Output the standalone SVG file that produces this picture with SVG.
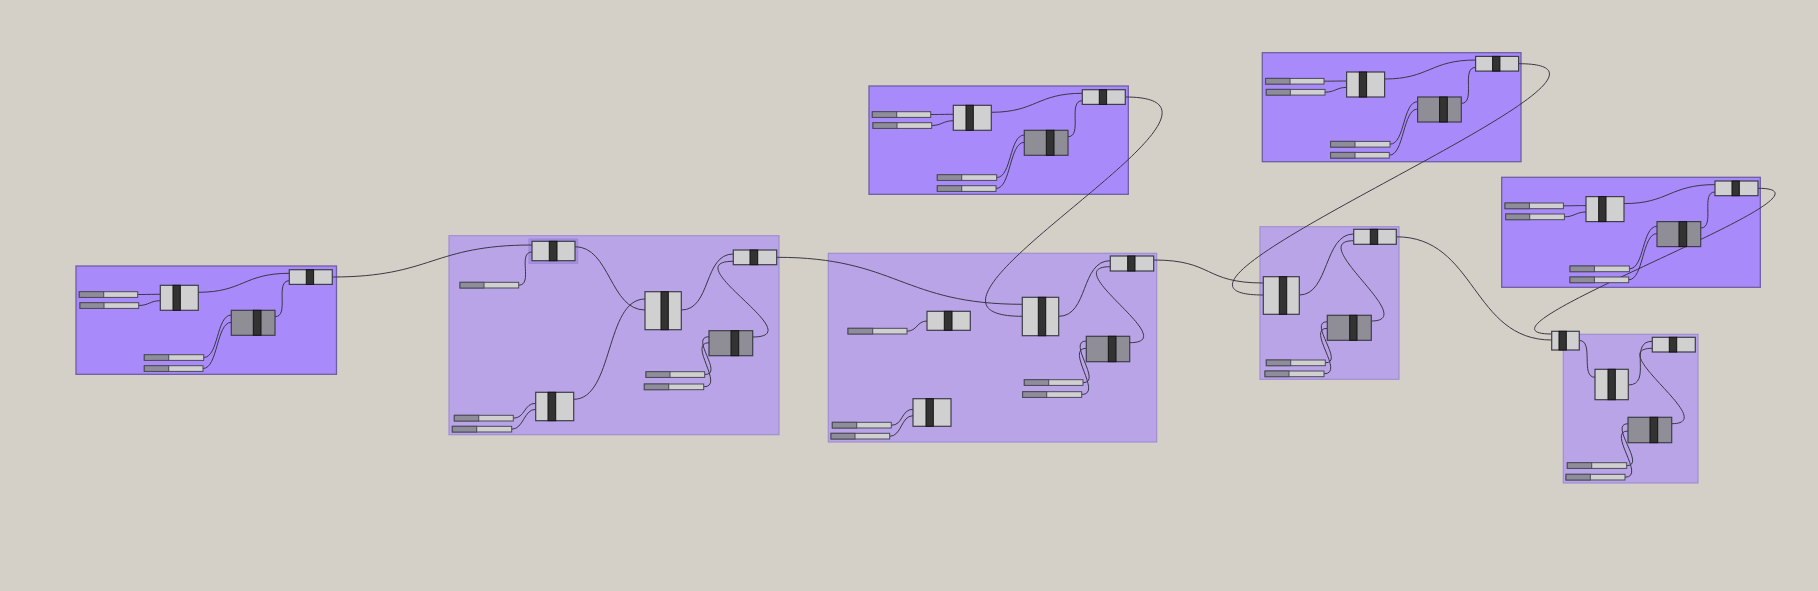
<svg xmlns="http://www.w3.org/2000/svg" width="1818" height="591" viewBox="0 0 1818 591">
<style>
.gb{fill:#a98afa;stroke:#6d5fa3;stroke-width:1.3}
.gl{fill:#b9a4e8;stroke:#a090d0;stroke-width:1.2}
.hl{fill:#a790e0;stroke:#9b87d8;stroke-width:1}
.c{fill:#d0d0d0;stroke:#3e3d4a;stroke-width:1.2}
.cd{fill:#8f8e97;stroke:#3e3d4a;stroke-width:1.2}
.bar{fill:#333333;stroke:#151515;stroke-width:1}
.sl{fill:#d0d0d0;stroke:#4b4a59;stroke-width:1}
.sd{fill:#8f8d99;stroke:#4b4a59;stroke-width:1}
.w{fill:none;stroke:#3a3744;stroke-width:1}
</style>
<rect width="1818" height="591" fill="#d4d0c8"/>

<!-- group boxes -->
<g id="group-boxes">
  <rect id="box-A" class="gb" x="76" y="266" width="260.5" height="108.3"/>
  <rect id="box-B" class="gl" x="449" y="235.7" width="330" height="199"/>
  <rect id="box-C" class="gl" x="828.3" y="253.3" width="328.4" height="188.7"/>
  <rect id="box-D" class="gb" x="869" y="86" width="259.3" height="108.3"/>
  <rect id="box-E" class="gb" x="1262.3" y="52.7" width="258.7" height="109"/>
  <rect id="box-F" class="gl" x="1260" y="226.7" width="139" height="152.6"/>
  <rect id="box-G" class="gb" x="1501.7" y="177.3" width="258.6" height="110"/>
  <rect id="box-H" class="gl" x="1563.3" y="334.3" width="134.7" height="148.7"/>
  <rect class="hl" x="529" y="239" width="48.7" height="24.3"/>
</g>

<!-- connectors -->
<g id="connectors" class="w">
  <g transform="translate(76,266)">
    <path d="M61.7 28.5 C71.7 28.5 74.3 28.3 84.3 28.3"/>
    <path d="M62.7 39.5 C72.7 39.5 74.3 34.7 84.3 34.7"/>
    <path d="M122.3 26.3 C167 26.3 168 7.3 213.3 7.3"/>
    <path d="M199 50.7 C214 50.7 198.3 14.7 213.3 14.7"/>
    <path d="M127.7 91.5 C142.7 91.5 140.3 49 155.3 49"/>
    <path d="M127 102.5 C142 102.5 140.3 56.3 155.3 56.3"/>
  </g>
  <g transform="translate(869,86)">
    <path d="M61.7 28.5 C71.7 28.5 74.3 28.3 84.3 28.3"/>
    <path d="M62.7 39.5 C72.7 39.5 74.3 34.7 84.3 34.7"/>
    <path d="M122.3 26.3 C167 26.3 168 7.3 213.3 7.3"/>
    <path d="M199 50.7 C214 50.7 198.3 14.7 213.3 14.7"/>
    <path d="M127.7 91.5 C142.7 91.5 140.3 49 155.3 49"/>
    <path d="M127 102.5 C142 102.5 140.3 56.3 155.3 56.3"/>
  </g>
  <g transform="translate(1262.3,52.7)">
    <path d="M61.7 28.5 C71.7 28.5 74.3 28.3 84.3 28.3"/>
    <path d="M62.7 39.5 C72.7 39.5 74.3 34.7 84.3 34.7"/>
    <path d="M122.3 26.3 C167 26.3 168 7.3 213.3 7.3"/>
    <path d="M199 50.7 C214 50.7 198.3 14.7 213.3 14.7"/>
    <path d="M127.7 91.5 C142.7 91.5 140.3 49 155.3 49"/>
    <path d="M127 102.5 C142 102.5 140.3 56.3 155.3 56.3"/>
  </g>
  <g transform="translate(1501.7,177.3)">
    <path d="M61.7 28.5 C71.7 28.5 74.3 28.3 84.3 28.3"/>
    <path d="M62.7 39.5 C72.7 39.5 74.3 34.7 84.3 34.7"/>
    <path d="M122.3 26.3 C167 26.3 168 7.3 213.3 7.3"/>
    <path d="M199 50.7 C214 50.7 198.3 14.7 213.3 14.7"/>
    <path d="M127.7 91.5 C142.7 91.5 140.3 49 155.3 49"/>
    <path d="M127 102.5 C142 102.5 140.3 56.3 155.3 56.3"/>
  </g>
  <path d="M332.3 277 C432.3 277 432 245 532 245"/>
  <path d="M518.7 285.2 C533.7 285.2 517 252 532 252"/>
  <path d="M575 246.7 C610 246.7 610 310 645 310"/>
  <path d="M573.7 399.3 C613.7 399.3 605 299 645 299"/>
  <path d="M513.3 418.2 C525.3 418.2 523.7 403.3 535.7 403.3"/>
  <path d="M511.7 429.2 C523.7 429.2 523.7 409.3 535.7 409.3"/>
  <path d="M681.3 310 C711.3 310 703.3 254 733.3 254"/>
  <path d="M752.7 337 C812.7 337 673.3 261.3 733.3 261.3"/>
  <path d="M704.7 374.5 C724.7 374.5 689 336.7 709 336.7"/>
  <path d="M703.7 386.8 C725.7 386.8 687 342.7 709 342.7"/>
  <path d="M776.7 257.3 C896.7 257.3 902.3 304.3 1022.3 304.3"/>
  <path d="M907 331.2 C917 331.2 917 321 927 321"/>
  <path d="M1058.7 316.3 C1088.7 316.3 1080.3 260.7 1110.3 260.7"/>
  <path d="M1129.7 342.7 C1184.7 342.7 1055.3 266.7 1110.3 266.7"/>
  <path d="M1083 382.7 C1103 382.7 1066.3 341 1086.3 341"/>
  <path d="M1081.7 394.5 C1103.7 394.5 1064.3 348.3 1086.3 348.3"/>
  <path d="M891.3 425.3 C903.3 425.3 901 409.3 913 409.3"/>
  <path d="M889.7 436.3 C901.7 436.3 901 415.7 913 415.7"/>
  <path d="M1153.7 260 C1213.7 260 1203.3 283 1263.3 283"/>
  <path d="M1125.3 97 C1285.3 97 862.3 316.3 1022.3 316.3"/>
  <path d="M1299.3 295 C1329.3 295 1323.7 234 1353.7 234"/>
  <path d="M1371.3 321 C1421.3 321 1303.7 240.7 1353.7 240.7"/>
  <path d="M1325.3 362.8 C1345.3 362.8 1307.3 321.7 1327.3 321.7"/>
  <path d="M1324 373.8 C1346 373.8 1305.3 328.3 1327.3 328.3"/>
  <path d="M1518.6 63.7 C1688.6 63.7 1093.3 295 1263.3 295"/>
  <path d="M1396.3 236.8 C1476.3 236.8 1471.7 340 1551.7 340"/>
  <path d="M1758 188.3 C1863 188.3 1446.7 334 1551.7 334"/>
  <path d="M1579.3 340.5 C1594.3 340.5 1580 377.3 1595 377.3"/>
  <path d="M1628.3 385 C1653.3 385 1627.3 341.3 1652.3 341.3"/>
  <path d="M1671.7 423.7 C1721.7 423.7 1602.3 348.3 1652.3 348.3"/>
  <path d="M1626.7 465.7 C1646.7 465.7 1608 423.7 1628 423.7"/>
  <path d="M1625 477.2 C1647 477.2 1606 431 1628 431"/>
</g>

<!-- group A (bright) -->
<g id="group-A" transform="translate(76,266)">
  <g id="A-slider1"><rect class="sl" x="3.3" y="25.7" width="58.4" height="5.7"/><rect class="sd" x="3.3" y="25.7" width="24.4" height="5.7"/></g>
  <g id="A-slider2"><rect class="sl" x="4" y="36.7" width="58.7" height="5.7"/><rect class="sd" x="4" y="36.7" width="24" height="5.7"/></g>
  <g id="A-comp1"><rect class="c" x="84.3" y="19.3" width="38" height="25"/><rect class="bar" x="97" y="19.3" width="7.3" height="25"/></g>
  <g id="A-comp2"><rect class="cd" x="155.3" y="44.3" width="43.7" height="25"/><rect class="bar" x="177.3" y="44.3" width="7.7" height="25"/></g>
  <g id="A-out"><rect class="c" x="213.3" y="3.7" width="43" height="14.7"/><rect class="bar" x="230.3" y="3.7" width="7.3" height="14.7"/></g>
  <g id="A-slider3"><rect class="sl" x="68.3" y="88.7" width="59.4" height="5.7"/><rect class="sd" x="68.3" y="88.7" width="24.4" height="5.7"/></g>
  <g id="A-slider4"><rect class="sl" x="68.3" y="99.7" width="58.7" height="5.7"/><rect class="sd" x="68.3" y="99.7" width="24.4" height="5.7"/></g>
</g>

<!-- group D (bright) -->
<g id="group-D" transform="translate(869,86)">
  <g id="D-slider1"><rect class="sl" x="3.3" y="25.7" width="58.4" height="5.7"/><rect class="sd" x="3.3" y="25.7" width="24.4" height="5.7"/></g>
  <g id="D-slider2"><rect class="sl" x="4" y="36.7" width="58.7" height="5.7"/><rect class="sd" x="4" y="36.7" width="24" height="5.7"/></g>
  <g id="D-comp1"><rect class="c" x="84.3" y="19.3" width="38" height="25"/><rect class="bar" x="97" y="19.3" width="7.3" height="25"/></g>
  <g id="D-comp2"><rect class="cd" x="155.3" y="44.3" width="43.7" height="25"/><rect class="bar" x="177.3" y="44.3" width="7.7" height="25"/></g>
  <g id="D-out"><rect class="c" x="213.3" y="3.7" width="43" height="14.7"/><rect class="bar" x="230.3" y="3.7" width="7.3" height="14.7"/></g>
  <g id="D-slider3"><rect class="sl" x="68.3" y="88.7" width="59.4" height="5.7"/><rect class="sd" x="68.3" y="88.7" width="24.4" height="5.7"/></g>
  <g id="D-slider4"><rect class="sl" x="68.3" y="99.7" width="58.7" height="5.7"/><rect class="sd" x="68.3" y="99.7" width="24.4" height="5.7"/></g>
</g>

<!-- group E (bright) -->
<g id="group-E" transform="translate(1262.3,52.7)">
  <g id="E-slider1"><rect class="sl" x="3.3" y="25.7" width="58.4" height="5.7"/><rect class="sd" x="3.3" y="25.7" width="24.4" height="5.7"/></g>
  <g id="E-slider2"><rect class="sl" x="4" y="36.7" width="58.7" height="5.7"/><rect class="sd" x="4" y="36.7" width="24" height="5.7"/></g>
  <g id="E-comp1"><rect class="c" x="84.3" y="19.3" width="38" height="25"/><rect class="bar" x="97" y="19.3" width="7.3" height="25"/></g>
  <g id="E-comp2"><rect class="cd" x="155.3" y="44.3" width="43.7" height="25"/><rect class="bar" x="177.3" y="44.3" width="7.7" height="25"/></g>
  <g id="E-out"><rect class="c" x="213.3" y="3.7" width="43" height="14.7"/><rect class="bar" x="230.3" y="3.7" width="7.3" height="14.7"/></g>
  <g id="E-slider3"><rect class="sl" x="68.3" y="88.7" width="59.4" height="5.7"/><rect class="sd" x="68.3" y="88.7" width="24.4" height="5.7"/></g>
  <g id="E-slider4"><rect class="sl" x="68.3" y="99.7" width="58.7" height="5.7"/><rect class="sd" x="68.3" y="99.7" width="24.4" height="5.7"/></g>
</g>

<!-- group G (bright) -->
<g id="group-G" transform="translate(1501.7,177.3)">
  <g id="G-slider1"><rect class="sl" x="3.3" y="25.7" width="58.4" height="5.7"/><rect class="sd" x="3.3" y="25.7" width="24.4" height="5.7"/></g>
  <g id="G-slider2"><rect class="sl" x="4" y="36.7" width="58.7" height="5.7"/><rect class="sd" x="4" y="36.7" width="24" height="5.7"/></g>
  <g id="G-comp1"><rect class="c" x="84.3" y="19.3" width="38" height="25"/><rect class="bar" x="97" y="19.3" width="7.3" height="25"/></g>
  <g id="G-comp2"><rect class="cd" x="155.3" y="44.3" width="43.7" height="25"/><rect class="bar" x="177.3" y="44.3" width="7.7" height="25"/></g>
  <g id="G-out"><rect class="c" x="213.3" y="3.7" width="43" height="14.7"/><rect class="bar" x="230.3" y="3.7" width="7.3" height="14.7"/></g>
  <g id="G-slider3"><rect class="sl" x="68.3" y="88.7" width="59.4" height="5.7"/><rect class="sd" x="68.3" y="88.7" width="24.4" height="5.7"/></g>
  <g id="G-slider4"><rect class="sl" x="68.3" y="99.7" width="58.7" height="5.7"/><rect class="sd" x="68.3" y="99.7" width="24.4" height="5.7"/></g>
</g>

<!-- group B (light) -->
<g id="group-B">
  <g id="B-top"><rect class="c" x="532" y="241.3" width="43" height="19.4"/><rect class="bar" x="549.3" y="241.3" width="7.7" height="19.4"/></g>
  <g id="B-slider0"><rect class="sl" x="460" y="282.3" width="58.7" height="5.7"/><rect class="sd" x="460" y="282.3" width="24" height="5.7"/></g>
  <g id="B-mid"><rect class="c" x="645" y="291.7" width="36.3" height="38"/><rect class="bar" x="661" y="291.7" width="7.3" height="38"/></g>
  <g id="B-low"><rect class="c" x="535.7" y="392.3" width="38" height="28.4"/><rect class="bar" x="548" y="392.3" width="7.7" height="28.4"/></g>
  <g id="B-slider1"><rect class="sl" x="454.3" y="415.3" width="59" height="5.7"/><rect class="sd" x="454.3" y="415.3" width="24.4" height="5.7"/></g>
  <g id="B-slider2"><rect class="sl" x="452.3" y="426.3" width="59.4" height="5.7"/><rect class="sd" x="452.3" y="426.3" width="24.4" height="5.7"/></g>
  <g id="B-out"><rect class="c" x="733.3" y="250" width="43.4" height="14.7"/><rect class="bar" x="750" y="250" width="7.7" height="14.7"/></g>
  <g id="B-dark"><rect class="cd" x="709" y="330.7" width="43.7" height="25"/><rect class="bar" x="731" y="330.7" width="7.7" height="25"/></g>
  <g id="B-slider3"><rect class="sl" x="646" y="371.7" width="58.7" height="5.7"/><rect class="sd" x="646" y="371.7" width="24" height="5.7"/></g>
  <g id="B-slider4"><rect class="sl" x="644.3" y="384" width="59.4" height="5.7"/><rect class="sd" x="644.3" y="384" width="24.4" height="5.7"/></g>
</g>

<!-- group C (light) -->
<g id="group-C">
  <g id="C-small"><rect class="c" x="927" y="311.3" width="43.3" height="19"/><rect class="bar" x="944.3" y="311.3" width="7.7" height="19"/></g>
  <g id="C-slider0"><rect class="sl" x="848" y="328.3" width="59" height="5.7"/><rect class="sd" x="848" y="328.3" width="24.7" height="5.7"/></g>
  <g id="C-mid"><rect class="c" x="1022.3" y="297.3" width="36.4" height="38.4"/><rect class="bar" x="1038.3" y="297.3" width="7.4" height="38.4"/></g>
  <g id="C-out"><rect class="c" x="1110.3" y="256" width="43.4" height="15"/><rect class="bar" x="1127.7" y="256" width="7.3" height="15"/></g>
  <g id="C-dark"><rect class="cd" x="1086.3" y="336.3" width="43.4" height="25.4"/><rect class="bar" x="1108.3" y="336.3" width="7.7" height="25.4"/></g>
  <g id="C-slider1"><rect class="sl" x="1024.3" y="379.7" width="58.7" height="5.7"/><rect class="sd" x="1024.3" y="379.7" width="24.4" height="5.7"/></g>
  <g id="C-slider2"><rect class="sl" x="1022.7" y="391.7" width="59" height="5.7"/><rect class="sd" x="1022.7" y="391.7" width="24" height="5.7"/></g>
  <g id="C-low"><rect class="c" x="913" y="398.7" width="38" height="27.6"/><rect class="bar" x="926" y="398.7" width="7.3" height="27.6"/></g>
  <g id="C-slider3"><rect class="sl" x="832.3" y="422.3" width="59" height="5.7"/><rect class="sd" x="832.3" y="422.3" width="24.4" height="5.7"/></g>
  <g id="C-slider4"><rect class="sl" x="831" y="433.3" width="58.7" height="5.7"/><rect class="sd" x="831" y="433.3" width="24" height="5.7"/></g>
</g>

<!-- group F (light) -->
<g id="group-F">
  <g id="F-mid"><rect class="c" x="1263.3" y="276.7" width="36" height="37.6"/><rect class="bar" x="1279.3" y="276.7" width="7.4" height="37.6"/></g>
  <g id="F-out"><rect class="c" x="1353.7" y="229.3" width="42.6" height="15"/><rect class="bar" x="1370.3" y="229.3" width="7.4" height="15"/></g>
  <g id="F-dark"><rect class="cd" x="1327.3" y="315.3" width="44" height="25"/><rect class="bar" x="1349.7" y="315.3" width="7.3" height="25"/></g>
  <g id="F-slider1"><rect class="sl" x="1266.3" y="360" width="59" height="5.7"/><rect class="sd" x="1266.3" y="360" width="24.4" height="5.7"/></g>
  <g id="F-slider2"><rect class="sl" x="1265" y="371" width="59" height="5.7"/><rect class="sd" x="1265" y="371" width="24" height="5.7"/></g>
</g>

<!-- group H (light) -->
<g id="group-H">
  <g id="H-mid"><rect class="c" x="1595" y="369.3" width="33.3" height="30.4"/><rect class="bar" x="1608" y="369.3" width="7.3" height="30.4"/></g>
  <g id="H-out"><rect class="c" x="1652.3" y="337.3" width="43" height="14.7"/><rect class="bar" x="1669.3" y="337.3" width="7.4" height="14.7"/></g>
  <g id="H-dark"><rect class="cd" x="1628" y="417.3" width="43.7" height="25.4"/><rect class="bar" x="1650" y="417.3" width="7.7" height="25.4"/></g>
  <g id="H-slider1"><rect class="sl" x="1567.3" y="462.7" width="59.4" height="5.7"/><rect class="sd" x="1567.3" y="462.7" width="24.4" height="5.7"/></g>
  <g id="H-slider2"><rect class="sl" x="1566" y="474.3" width="59" height="5.7"/><rect class="sd" x="1566" y="474.3" width="24.3" height="5.7"/></g>
</g>

<!-- standalone merge component -->
<g id="merge-Q"><rect class="c" x="1551.7" y="331.3" width="27.6" height="18.7"/><rect class="bar" x="1559" y="331.3" width="7.3" height="18.7"/></g>
</svg>
